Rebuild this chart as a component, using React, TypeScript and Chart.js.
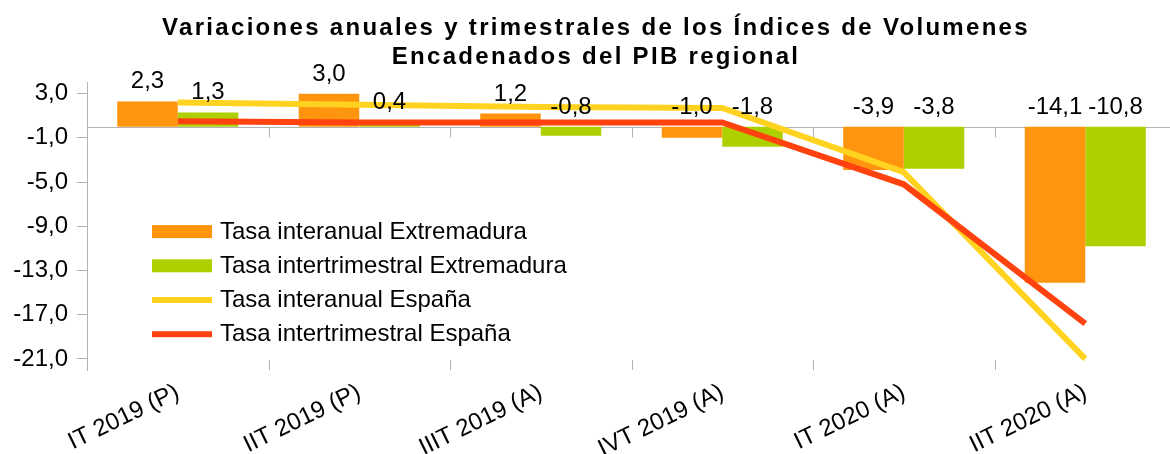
import React, { useEffect, useRef } from 'react';
import { Chart, registerables } from 'chart.js';

Chart.register(...registerables);

const categories = ['IT 2019 (P)', 'IIT 2019 (P)', 'IIIT 2019 (A)', 'IVT 2019 (A)', 'IT 2020 (A)', 'IIT 2020 (A)'];
const interanualExtremadura = [2.3, 3.0, 1.2, -1.0, -3.9, -14.1];
const intertrimestralExtremadura = [1.3, 0.4, -0.8, -1.8, -3.8, -10.8];
const interanualEspana = [2.2, 2.0, 1.8, 1.7, -4.1, -21.0];
const intertrimestralEspana = [0.5, 0.4, 0.4, 0.4, -5.2, -17.8];
const yTickValues = [3, -1, -5, -9, -13, -17, -21];
const titleLines = ['Variaciones anuales y trimestrales de los Índices de Volumenes', 'Encadenados del PIB regional'];
const seriesLabels = [
  'Tasa interanual Extremadura',
  'Tasa intertrimestral Extremadura',
  'Tasa interanual España',
  'Tasa intertrimestral España',
];

const FONT = '"Liberation Sans", Arial, Helvetica, sans-serif';
const GRAY = '#b3b3b3';

const fmt = (v: number) => Number(v).toFixed(1).replace('.', ',');

const titlePlugin = {
  id: 'customTitle',
  afterDraw(chart: any) {
    const { ctx, width } = chart;
    ctx.save();
    ctx.letterSpacing = '2.3px';
    ctx.font = `bold 24px ${FONT}`;
    ctx.fillStyle = '#000';
    ctx.textAlign = 'center';
    ctx.textBaseline = 'alphabetic';
    ctx.fillText(titleLines[0], width / 2, 27);
    ctx.fillText(titleLines[1], width / 2, 55.5);
    ctx.restore();
  },
};

const axisDecorPlugin = {
  id: 'axisDecor',
  beforeDatasetsDraw(chart: any) {
    const { ctx, chartArea } = chart;
    const xs = chart.scales.x;
    const ys = chart.scales.y;
    const y0 = Math.round(ys.getPixelForValue(0)) + 0.5;
    ctx.save();
    ctx.strokeStyle = GRAY;
    ctx.lineWidth = 1;
    ctx.beginPath();
    ctx.moveTo(chartArea.left, y0);
    ctx.lineTo(chartArea.right, y0);
    const n = categories.length;
    for (let k = 1; k < n; k++) {
      const x = Math.round((xs.getPixelForValue(k - 1) + xs.getPixelForValue(k)) / 2) + 0.5;
      ctx.moveTo(x, y0);
      ctx.lineTo(x, y0 + 10);
      ctx.moveTo(x, chartArea.bottom - 10);
      ctx.lineTo(x, chartArea.bottom);
    }
    ctx.stroke();
    ctx.restore();
  },
};

const labelsPlugin = {
  id: 'barLabels',
  afterDatasetsDraw(chart: any) {
    const { ctx } = chart;
    const zero = chart.scales.y.getPixelForValue(0);
    ctx.save();
    ctx.font = `24px ${FONT}`;
    ctx.fillStyle = '#000';
    ctx.textAlign = 'center';
    ctx.textBaseline = 'alphabetic';
    chart.data.datasets.forEach((ds: any, i: number) => {
      if (ds.type !== 'bar') return;
      const meta = chart.getDatasetMeta(i);
      meta.data.forEach((el: any, j: number) => {
        const v = ds.data[j];
        const ref = v >= 0 ? el.y : zero;
        ctx.fillText(fmt(v), el.x, ref - 13);
      });
    });
    ctx.restore();
  },
};

const legendPlugin = {
  id: 'customLegend',
  afterDraw(chart: any) {
    const { ctx, chartArea } = chart;
    const x0 = chartArea.left + 65;
    ctx.save();
    ctx.font = `24px ${FONT}`;
    ctx.textAlign = 'left';
    ctx.textBaseline = 'alphabetic';
    chart.data.datasets.forEach((ds: any, i: number) => {
      const cy = chartArea.top + 149 + i * 34.2;
      if (ds.type === 'bar') {
        ctx.fillStyle = ds.backgroundColor;
        ctx.fillRect(x0, cy - 6.5, 60, 13);
      } else {
        ctx.fillStyle = ds.borderColor;
        ctx.fillRect(x0, cy - 3, 60, 6);
      }
      ctx.fillStyle = '#000';
      ctx.fillText(ds.label, x0 + 68, cy + 7);
    });
    ctx.restore();
  },
};

export default function App() {
  const canvasRef = useRef<HTMLCanvasElement | null>(null);

  useEffect(() => {
    if (!canvasRef.current) return;
    const chart = new Chart(canvasRef.current, {
      type: 'bar',
      data: {
        labels: categories,
        datasets: [
          {
            type: 'bar',
            label: seriesLabels[0],
            data: interanualExtremadura,
            backgroundColor: '#ff950e',
            borderWidth: 0,
            barPercentage: 1,
            categoryPercentage: 0.667,
            order: 3,
          },
          {
            type: 'bar',
            label: seriesLabels[1],
            data: intertrimestralExtremadura,
            backgroundColor: '#aecf00',
            borderWidth: 0,
            barPercentage: 1,
            categoryPercentage: 0.667,
            order: 4,
          },
          {
            type: 'line',
            label: seriesLabels[2],
            data: interanualEspana,
            borderColor: '#ffd320',
            backgroundColor: '#ffd320',
            borderWidth: 6,
            pointRadius: 0,
            fill: false,
            tension: 0,
            order: 2,
          },
          {
            type: 'line',
            label: seriesLabels[3],
            data: intertrimestralEspana,
            borderColor: '#ff420e',
            backgroundColor: '#ff420e',
            borderWidth: 6,
            pointRadius: 0,
            fill: false,
            tension: 0,
            order: 1,
          },
        ] as any,
      },
      options: {
        responsive: false,
        animation: false,
        layout: { padding: { left: 0, right: 8, top: 74.6, bottom: 0 } },
        plugins: {
          legend: { display: false },
          tooltip: { enabled: false },
          title: { display: false },
        },
        scales: {
          x: {
            type: 'category',
            offset: true,
            grid: { display: false },
            border: { display: false },
            ticks: {
              color: '#000',
              font: { size: 24, family: FONT },
              minRotation: 26,
              maxRotation: 26,
              autoSkip: false,
              padding: 0,
            },
            afterFit(scale: any) {
              scale.height = 84;
            },
          },
          y: {
            min: -22,
            max: 4,
            afterBuildTicks(scale: any) {
              scale.ticks = yTickValues.map((v) => ({ value: v }));
            },
            ticks: {
              color: '#000',
              font: { size: 24, family: FONT },
              padding: 9,
              callback: (v: any) => fmt(v),
            },
            grid: { drawOnChartArea: false, drawTicks: true, tickLength: 10, color: GRAY },
            border: { display: true, color: GRAY },
            afterFit(scale: any) {
              scale.width = 79;
            },
          },
        },
      } as any,
      plugins: [axisDecorPlugin, labelsPlugin, legendPlugin, titlePlugin],
    });
    return () => chart.destroy();
  }, []);

  return (
    <div style={{ position: 'fixed', left: 8, top: 8, width: 1176, height: 446, background: '#fff' }}>
      <canvas ref={canvasRef} width={1176} height={446} />
    </div>
  );
}
